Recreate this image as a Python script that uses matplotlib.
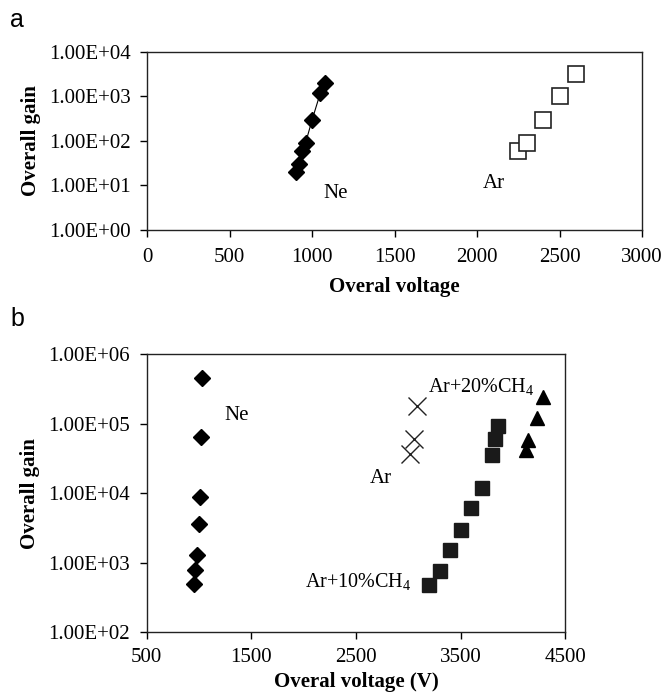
import matplotlib
matplotlib.use("Agg")
import matplotlib.pyplot as plt
from matplotlib.ticker import FixedLocator, FuncFormatter, NullLocator

# panel a
A_NE_V = [900, 920, 940, 960, 1000, 1050, 1080]
A_NE_GAIN = [20, 30, 60, 90, 300, 1200, 2000]
A_AR_V = [2250, 2300, 2400, 2500, 2600]
A_AR_GAIN = [60, 90, 300, 1000, 3100]
A_XTICKS = [0, 500, 1000, 1500, 2000, 2500, 3000]
A_YTICKS = [1e0, 1e1, 1e2, 1e3, 1e4]

# panel b
B_NE_V = [955, 965, 980, 1000, 1010, 1020, 1030]
B_NE_GAIN = [500, 780, 1300, 3600, 8900, 65000, 450000]
B_AR_V = [3020, 3050, 3080]
B_AR_GAIN = [36000, 61000, 180000]
B_AR10_V = [3200, 3300, 3400, 3500, 3600, 3700, 3800, 3830, 3860]
B_AR10_GAIN = [480, 770, 1500, 3000, 6100, 12000, 35000, 61000, 92000]
B_AR20_V = [4120, 4140, 4225, 4290]
B_AR20_GAIN = [42000, 58000, 120000, 240000]
B_XTICKS = [500, 1500, 2500, 3500, 4500]
B_YTICKS = [1e2, 1e3, 1e4, 1e5, 1e6]

plt.rcParams["font.family"] = ["Liberation Serif", "DejaVu Serif"]
plt.rcParams["mathtext.fontset"] = "custom"
plt.rcParams["mathtext.rm"] = "Liberation Serif"

sci = FuncFormatter(lambda v, p: f"{v:.2E}")


def style_axes(ax, xticks, yticks, xpad):
    ax.set_yscale("log")
    ax.set_xlim(xticks[0], xticks[-1])
    ax.set_ylim(yticks[0], yticks[-1])
    ax.xaxis.set_major_locator(FixedLocator(xticks))
    ax.yaxis.set_major_locator(FixedLocator(yticks))
    ax.yaxis.set_minor_locator(NullLocator())
    ax.yaxis.set_major_formatter(sci)
    ax.tick_params(direction="out", length=5, width=1, labelsize=15)
    ax.tick_params(axis="x", pad=xpad)
    ax.tick_params(axis="y", pad=7)
    for s in ax.spines.values():
        s.set_linewidth(1)
        s.set_color("#222222")


fig = plt.figure(figsize=(6.67, 6.99), dpi=100)

# ---- panel a ----
ax1 = fig.add_axes([0.2208, 0.671, 0.7417, 0.255])
style_axes(ax1, A_XTICKS, A_YTICKS, 8)
ax1.plot(A_NE_V, A_NE_GAIN, color="black", lw=0.8, marker="D", ms=8,
         mfc="black", mec="black")
ax1.plot(A_AR_V, A_AR_GAIN, ls="none", marker="s", ms=11, mfc="white",
         mec="#222222", mew=1.2)
ax1.text(1070, 6.7, "Ne", fontsize=15, va="center", ha="left")
ax1.text(2035, 11, "Ar", fontsize=15, va="center", ha="left")
ax1.set_xlabel("Overal voltage", fontsize=15, fontweight="bold", labelpad=7)
ax1.set_ylabel("Overall gain", fontsize=15, fontweight="bold", labelpad=6)
fig.text(0.015, 0.972, "a", fontsize=18, family="Liberation Sans", va="center")

# ---- panel b ----
ax2 = fig.add_axes([0.22, 0.0954, 0.6276, 0.3981])
style_axes(ax2, B_XTICKS, B_YTICKS, 6)
ax2.plot(B_NE_V, B_NE_GAIN, ls="none", marker="D", ms=8.5, color="black")
ax2.plot(B_AR_V, B_AR_GAIN, ls="none", marker="x", ms=13, mew=1.0,
         color="#222222")
ax2.plot(B_AR10_V, B_AR10_GAIN, ls="none", marker="s", ms=10, color="#1a1a1a")
ax2.plot(B_AR20_V, B_AR20_GAIN, ls="none", marker="^", ms=10, color="black")
ax2.text(1245, 130000, "Ne", fontsize=15, va="center", ha="left")
ax2.text(3190, 330000, r"Ar+20%CH$_4$", fontsize=14.5, va="center", ha="left")
ax2.text(2630, 16000, "Ar", fontsize=15, va="center", ha="left")
ax2.text(2010, 530, r"Ar+10%CH$_4$", fontsize=14.5, va="center", ha="left")
ax2.set_xlabel("Overal voltage (V)", fontsize=15, fontweight="bold", labelpad=4)
ax2.set_ylabel("Overall gain", fontsize=15, fontweight="bold", labelpad=6)
fig.text(0.015, 0.543, "b", fontsize=18, family="Liberation Sans", va="center")

fig.savefig("out.png", dpi=100)
